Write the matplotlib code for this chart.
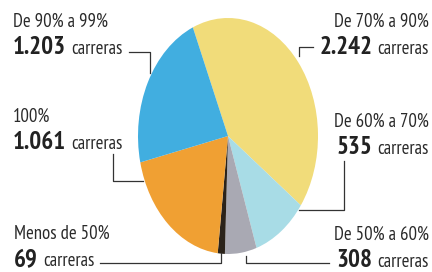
import matplotlib.pyplot as plt
import matplotlib.lines as mlines

# Carreras por porcentaje
labels = ["De 70% a 90%", "De 60% a 70%", "De 50% a 60%", "Menos de 50%", "100%", "De 90% a 99%"]
counts = [2242, 535, 308, 69, 1061, 1203]
count_txt = ["2.242", "535", "308", "69", "1.061", "1.203"]
colors = ["#F1DC7A", "#A8DCE6", "#A9A9B3", "#2B231A", "#F0A033", "#41AEE0"]

W, H = 432, 272
fig = plt.figure(figsize=(W / 100, H / 100), dpi=100)
fig.patch.set_facecolor("white")

FAM = ["PT Sans Narrow", "DejaVu Sans"]
SMALL = 13.5
BIG = 18


def fx(px):
    return px / W


def fy(py):
    return 1 - py / H


# pie drawn as an ellipse, like the print version
ax = fig.add_axes([fx(138), fy(254), fx(318) - fx(138), (254 - 18) / H])
ax.pie(counts, colors=colors, startangle=113, counterclock=False,
       wedgeprops=dict(linewidth=0))
ax.set_aspect("auto")
ax.set_xlim(-1, 1)
ax.set_ylim(-1, 1)
ax.axis("off")


def label(x, base, name, num, ha):
    # base = baseline of the first line in pixels
    fig.text(fx(x), fy(base), name, ha=ha, va="baseline", fontsize=SMALL,
             family=FAM, color="#2a2a2a")
    b2 = base + 27
    if ha == "left":
        t = fig.text(fx(x), fy(b2), num, ha="left", va="baseline",
                     fontsize=BIG, fontweight="bold", family=FAM, color="#222222")
        fig.canvas.draw()
        bb = t.get_window_extent()
        fig.text(bb.x1 / W + fx(5), fy(b2), "carreras", ha="left",
                 va="baseline", fontsize=SMALL, family=FAM, color="#2a2a2a")
    else:
        c = fig.text(fx(x), fy(b2), "carreras", ha="right", va="baseline",
                     fontsize=SMALL, family=FAM, color="#2a2a2a")
        fig.canvas.draw()
        bb = c.get_window_extent()
        fig.text(bb.x0 / W - fx(5), fy(b2), num, ha="right", va="baseline",
                 fontsize=BIG, fontweight="bold", family=FAM, color="#222222")


label(13, 27, labels[5], count_txt[5], "left")
label(13, 122, labels[4], count_txt[4], "left")
label(14, 239, labels[3], count_txt[3], "left")
label(429, 27, labels[0], count_txt[0], "right")
label(429, 127, labels[1], count_txt[1], "right")
label(429, 240, labels[2], count_txt[2], "right")


def leader(xs, ys):
    fig.add_artist(mlines.Line2D([fx(x) for x in xs], [fy(y) for y in ys],
                                 color="#333333", linewidth=0.9))


leader([129, 150, 150], [52, 52, 73])
leader([113, 113, 143], [154, 181, 181])
leader([100, 221, 221], [263, 263, 253])
leader([313, 299, 299], [47, 47, 56])
leader([344, 344, 299], [161, 210, 210])
leader([329, 246, 246], [263, 263, 256])

fig.savefig("out.png", dpi=100, facecolor="white")
